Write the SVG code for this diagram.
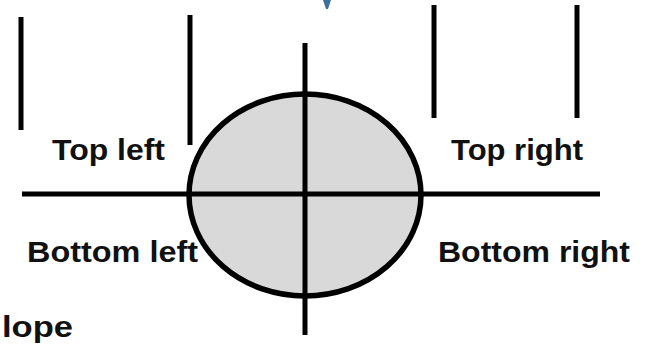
<svg xmlns="http://www.w3.org/2000/svg" width="650" height="347" viewBox="0 0 650 347">
<style>
.ln{stroke:#000;stroke-width:5;fill:none}
.lb{font-family:"Liberation Sans",Arial,sans-serif;font-weight:bold;font-size:30px;fill:#111}
</style>
<rect width="650" height="347" fill="#fff"/>
<path d="M323,0 L331,0 L328,9 L326,9 Z" fill="#3d6e9e"/>
<g id="ellipse">
<ellipse cx="305" cy="195" rx="116" ry="101" fill="#d9d9d9" stroke="#000" stroke-width="5.5"/>
</g>
<g id="connectors">
<line class="ln" x1="21" y1="17" x2="21" y2="130"/>
<line class="ln" x1="190" y1="15" x2="190" y2="145"/>
<line class="ln" x1="434" y1="5" x2="434" y2="118"/>
<line class="ln" x1="577" y1="5" x2="577" y2="118"/>
<line class="ln" x1="22" y1="194" x2="600" y2="194"/>
<line class="ln" x1="305" y1="43" x2="305" y2="335"/>
</g>
<g id="top-left"><text class="lb" x="52" y="160" textLength="113" lengthAdjust="spacingAndGlyphs">Top left</text></g>
<g id="top-right"><text class="lb" x="451" y="160" textLength="132" lengthAdjust="spacingAndGlyphs">Top right</text></g>
<g id="bottom-left"><text class="lb" x="27" y="262" textLength="171" lengthAdjust="spacingAndGlyphs">Bottom left</text></g>
<g id="bottom-right"><text class="lb" x="438" y="262" textLength="192" lengthAdjust="spacingAndGlyphs">Bottom right</text></g>
<g id="slope"><text class="lb" x="2" y="337" textLength="71" lengthAdjust="spacingAndGlyphs">lope</text></g>
</svg>
